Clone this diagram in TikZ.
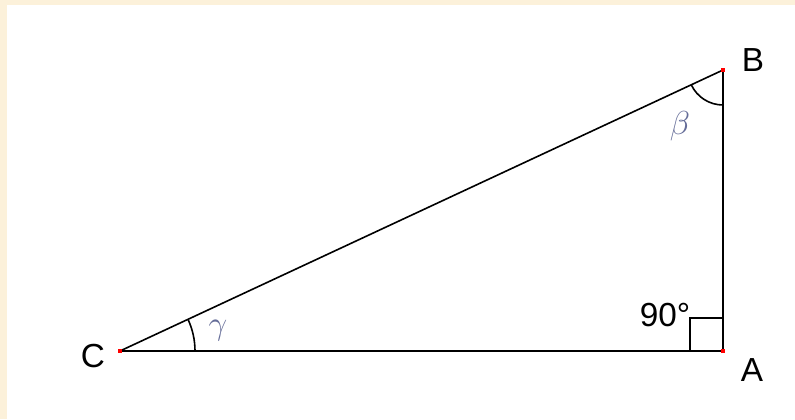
\documentclass[tikz,border=0pt]{standalone}
\usepackage{fontspec}
\setmainfont{Liberation Sans}
\usetikzlibrary{positioning}
\definecolor{paper}{HTML}{FCF1DA}
\definecolor{anglecolor}{HTML}{646C98}

\begin{document}
\begin{tikzpicture}[
  x=0.75pt, y=0.75pt,
  font=\fontsize{25}{29}\selectfont,
  side/.style={line width=1.2pt, black},
  vertex/.style={rectangle, fill=red, inner sep=0pt, minimum size=3.6pt},
  greek/.style={text=anglecolor, font=\fontsize{27}{31}\selectfont}
]
% background and frame
\fill[paper] (0,0) rectangle (795,419);
\fill[white] (7,0) rectangle (795,414);
\useasboundingbox (0,0) rectangle (795,419);
% corners
\coordinate (C) at (120,68);
\coordinate (A) at (723,68);
\coordinate (B) at (723,349);
% sides
\draw[side] (C) -- (A);
\draw[side] (A) -- (B);
\draw[side] (B) -- (C);
% right angle and arcs
\draw[side] ([xshift=-24.75pt]A) |- ([yshift=24.75pt]A);
\draw[side] (B) ++(205:26.25pt) arc[start angle=205, end angle=270, radius=26.25pt];
\draw[side] (C) ++(0:56.25pt) arc[start angle=0, end angle=25, radius=56.25pt];
% red points
\node[vertex] (ptC) at (C) {};
\node[vertex] (ptA) at (A) {};
\node[vertex] (ptB) at (B) {};
% labels
\node (labB) at (753,359) {B};
\node (labA) at (752,49) {A};
\node (labC) at (93,63) {C};
\node (labR) at (665,104) {90°};
\node[greek] (beta) at (680,293) {$\beta$};
\node[greek] (gamma) at (218,88) {$\gamma$};
\end{tikzpicture}
\end{document}
